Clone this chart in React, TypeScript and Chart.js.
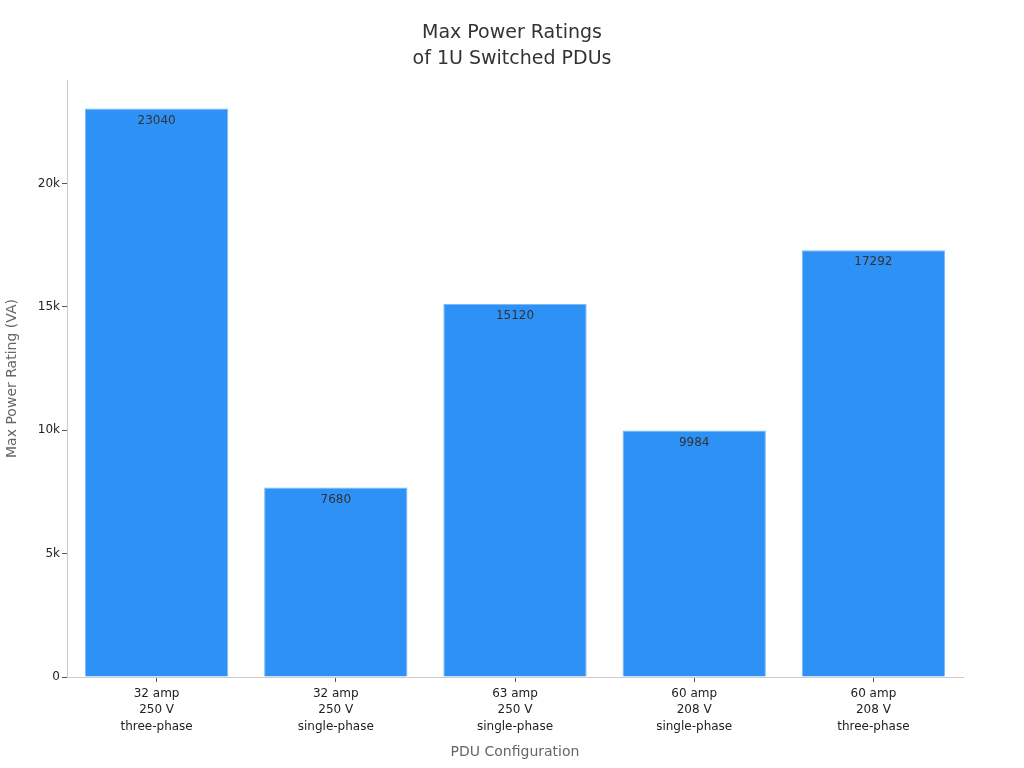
import React, { useEffect, useRef } from 'react';
import { Chart, registerables, Plugin } from 'chart.js';

Chart.register(...registerables);

const titleLines: string[] = ['Max Power Ratings', 'of 1U Switched PDUs'];
const categories: string[][] = [
  ['32 amp', '250 V', 'three-phase'],
  ['32 amp', '250 V', 'single-phase'],
  ['63 amp', '250 V', 'single-phase'],
  ['60 amp', '208 V', 'single-phase'],
  ['60 amp', '208 V', 'three-phase'],
];
const ratings: number[] = [23040, 7680, 15120, 9984, 17292];
const yTicks: number[] = [0, 5000, 10000, 15000, 20000];

const FONT = "'DejaVu Sans', sans-serif";

// write each value just under the top edge of its bar
const barLabels: Plugin<'bar'> = {
  id: 'barLabels',
  afterDatasetsDraw(chart) {
    const { ctx } = chart;
    const meta = chart.getDatasetMeta(0);
    ctx.save();
    ctx.font = `12px ${FONT}`;
    ctx.fillStyle = '#333333';
    ctx.textAlign = 'center';
    ctx.textBaseline = 'top';
    meta.data.forEach((el, i) => {
      ctx.fillText(String(ratings[i]), el.x, el.y + 6);
    });
    ctx.restore();
  },
};

// title centred on the whole canvas, not just the plot
const pageTitle: Plugin<'bar'> = {
  id: 'pageTitle',
  afterDraw(chart) {
    const { ctx } = chart;
    ctx.save();
    ctx.font = `19px ${FONT}`;
    ctx.fillStyle = '#333333';
    ctx.textAlign = 'center';
    ctx.textBaseline = 'middle';
    titleLines.forEach((line, i) => {
      ctx.fillText(line, chart.width / 2, 33 + i * 26);
    });
    ctx.restore();
  },
};

const App: React.FC = () => {
  const canvasRef = useRef<HTMLCanvasElement | null>(null);

  useEffect(() => {
    document.body.style.margin = '0';
    if (!canvasRef.current) return;
    const chart = new Chart(canvasRef.current, {
      type: 'bar',
      data: {
        labels: categories,
        datasets: [
          {
            data: ratings,
            backgroundColor: '#2e91f5',
            borderColor: '#7dbaf8',
            borderWidth: 1,
            barPercentage: 0.8,
            categoryPercentage: 1,
          },
        ],
      },
      options: {
        animation: false,
        responsive: true,
        maintainAspectRatio: false,
        layout: { padding: { left: 0, right: 61, top: 80, bottom: 0 } },
        plugins: {
          legend: { display: false },
          tooltip: { enabled: false },
          title: { display: false },
        },
        scales: {
          x: {
            grid: { drawOnChartArea: false, tickLength: 5, color: '#555555', offset: false },
            border: { color: '#cccccc' },
            ticks: {
              color: '#222222',
              font: { family: FONT, size: 12, lineHeight: 1.35 },
              padding: 4,
              maxRotation: 0,
            },
            title: {
              display: true,
              text: 'PDU Configuration',
              color: '#666666',
              font: { family: FONT, size: 14 },
              padding: { top: 4, bottom: 7 },
            },
            afterFit: (scale) => {
              scale.height = 91;
            },
          },
          y: {
            min: 0,
            max: 24192,
            grid: { drawOnChartArea: false, tickLength: 5, color: '#555555' },
            border: { color: '#cccccc' },
            ticks: {
              color: '#222222',
              font: { family: FONT, size: 12 },
              padding: 2,
              callback: (value) => {
                const v = Number(value);
                return v === 0 ? '0' : `${v / 1000}k`;
              },
            },
            afterBuildTicks: (scale) => {
              scale.ticks = yTicks.map((value) => ({ value }));
            },
            title: {
              display: true,
              text: 'Max Power Rating (VA)',
              color: '#666666',
              font: { family: FONT, size: 14 },
            },
            afterFit: (scale) => {
              scale.width = 67;
            },
          },
        },
      },
      plugins: [barLabels, pageTitle],
    });

    return () => {
      chart.destroy();
    };
  }, []);

  return (
    <div style={{ width: 1024, height: 768, position: 'relative', background: '#ffffff' }}>
      <canvas ref={canvasRef} />
    </div>
  );
};

export default App;
